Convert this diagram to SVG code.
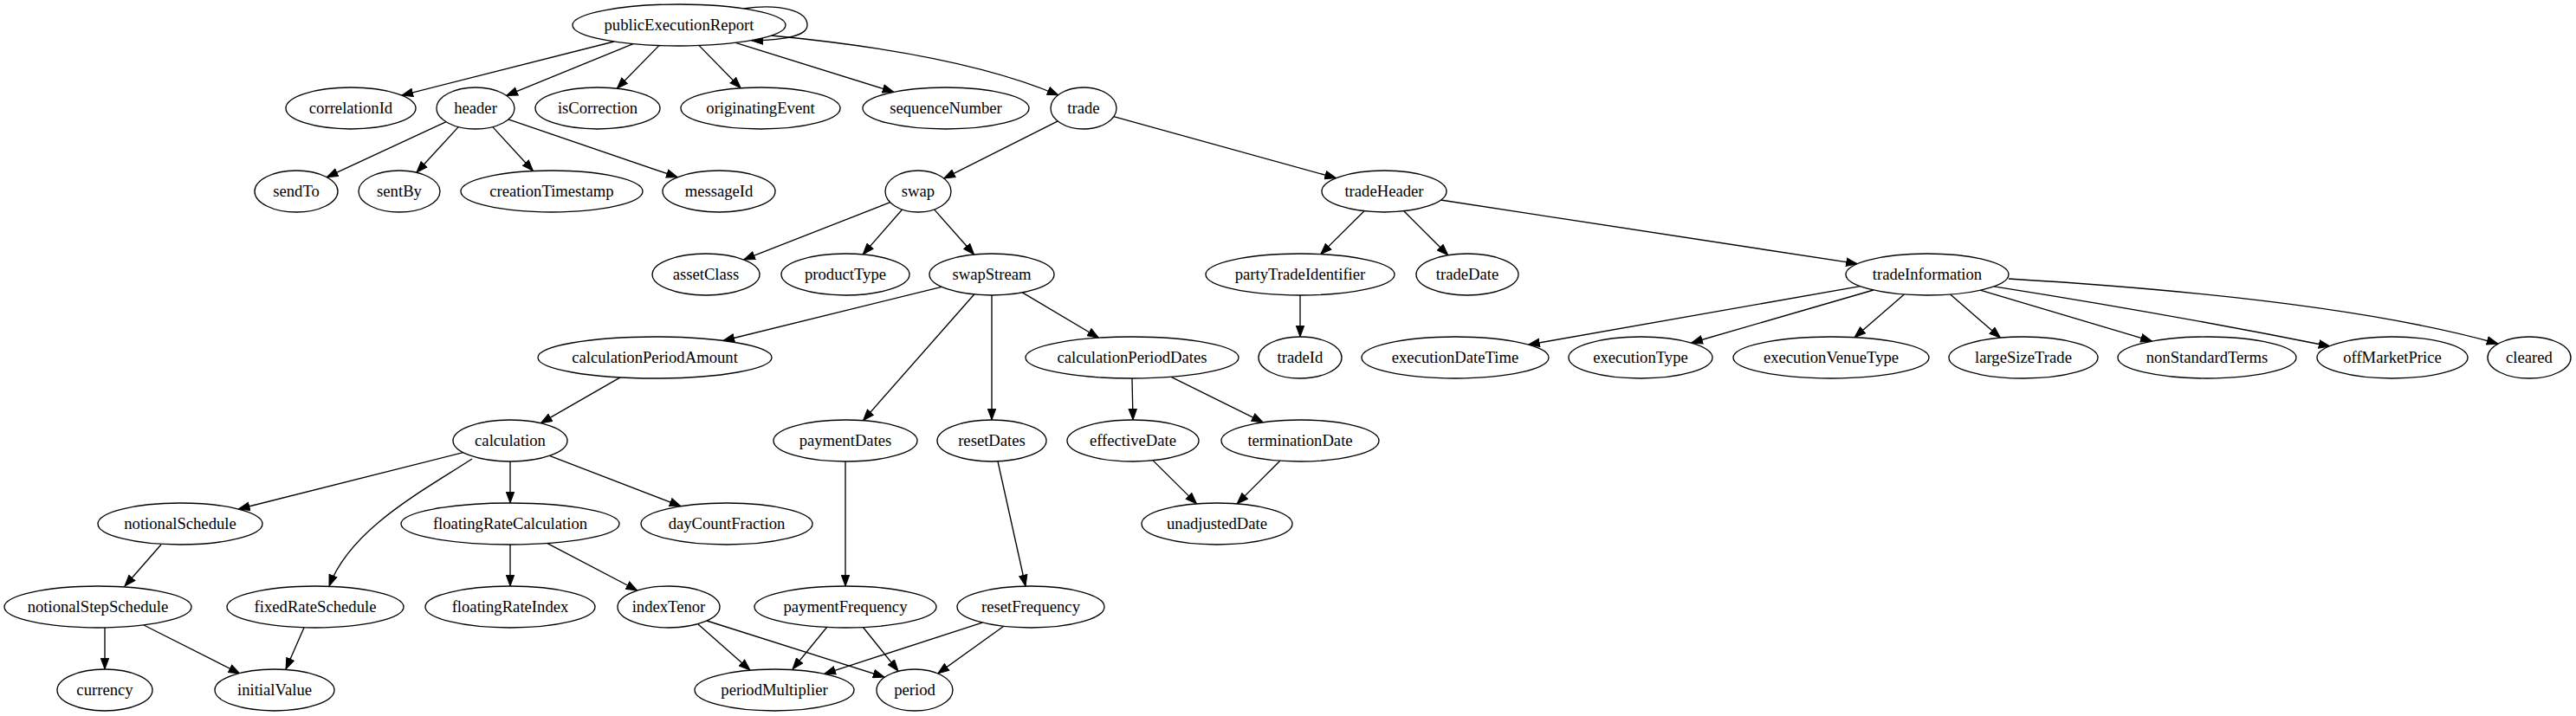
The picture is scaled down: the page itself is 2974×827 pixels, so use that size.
<svg xmlns="http://www.w3.org/2000/svg" width="2974" height="827" viewBox="0 0 2974 827">
<style>
.n ellipse{fill:#fff;stroke:#000;stroke-width:1.33}
.n text{font-family:"Liberation Serif","Times New Roman",serif;font-size:18.67px;text-anchor:middle;fill:#000}
#edges path,#edges line{fill:none;stroke:#000;stroke-width:1.33;marker-end:url(#arr)}
</style>
<defs>
<marker id="arr" markerUnits="userSpaceOnUse" markerWidth="15" markerHeight="11" refX="13.3" refY="5.5" orient="auto" viewBox="0 0 15 11">
<path d="M0.5,0.8 L13.3,5.5 L0.5,10.2 z" fill="#000" stroke="#000" stroke-width="1"/>
</marker>
</defs>
<rect width="2974" height="827" fill="#fff"/>
<g id="edges">
<path d="M858,10 C900,4 932,12 932,29 C932,41 910,46 868,47"/>
<line x1="708.9" y1="48" x2="463.8" y2="110.1"/>
<line x1="731" y1="50.7" x2="584.7" y2="110.4"/>
<line x1="760.9" y1="52.6" x2="712.3" y2="102.2"/>
<line x1="807.1" y1="52.6" x2="855.2" y2="101.7"/>
<line x1="849.3" y1="49.3" x2="1031.9" y2="106.3"/>
<path d="M890,41 Q1110,62 1222,110"/>
<line x1="515.1" y1="140.7" x2="377.2" y2="204.7"/>
<line x1="529.2" y1="146.6" x2="480.9" y2="199.3"/>
<line x1="568.8" y1="146.6" x2="615.5" y2="197.5"/>
<line x1="586.9" y1="137.9" x2="782.3" y2="204.7"/>
<line x1="1221.3" y1="139.9" x2="1089.7" y2="206.1"/>
<line x1="1285.8" y1="134.6" x2="1542.6" y2="205.7"/>
<line x1="1027.7" y1="233.7" x2="858.6" y2="299.9"/>
<line x1="1041.6" y1="242" x2="996.2" y2="293.9"/>
<line x1="1078.5" y1="241.9" x2="1124.6" y2="294"/>
<line x1="1575" y1="243.7" x2="1524.7" y2="293.6"/>
<line x1="1620.8" y1="243.8" x2="1671.8" y2="294.8"/>
<line x1="1663.4" y1="231" x2="2144.4" y2="304.7"/>
<line x1="1501" y1="341" x2="1501" y2="389"/>
<line x1="2147.6" y1="330.6" x2="1764.6" y2="398.1"/>
<line x1="2162.9" y1="335" x2="1952.6" y2="396"/>
<line x1="2198.4" y1="340" x2="2141" y2="389.7"/>
<line x1="2251.6" y1="340" x2="2309.6" y2="390.2"/>
<line x1="2286.2" y1="335.2" x2="2484.5" y2="394.1"/>
<path d="M2302,330.8 Q2500,362 2690,400"/>
<path d="M2319,322 Q2700,345 2884,397"/>
<line x1="1087.1" y1="331.3" x2="834.9" y2="393.5"/>
<line x1="1124.7" y1="340" x2="996.5" y2="485.7"/>
<line x1="1145" y1="341" x2="1145" y2="485"/>
<line x1="1180.3" y1="337.9" x2="1268.5" y2="390.2"/>
<line x1="1307" y1="437" x2="1308" y2="485"/>
<line x1="1352.1" y1="435.3" x2="1458.2" y2="487.8"/>
<line x1="1331.1" y1="531.9" x2="1381.6" y2="581.9"/>
<line x1="1477.8" y1="532.2" x2="1428.1" y2="581.9"/>
<line x1="716.1" y1="435.9" x2="624.3" y2="488.7"/>
<line x1="534.7" y1="522.7" x2="275.3" y2="588"/>
<path d="M545,530 C490,566 405,610 380,677"/>
<line x1="589" y1="533" x2="589" y2="581"/>
<line x1="634.4" y1="526.4" x2="786.1" y2="584.7"/>
<line x1="186" y1="629" x2="144" y2="677"/>
<line x1="121" y1="725" x2="121" y2="773"/>
<line x1="166" y1="722" x2="277" y2="778"/>
<line x1="351" y1="725" x2="330" y2="773"/>
<line x1="589" y1="629" x2="589" y2="677"/>
<line x1="632" y1="627.6" x2="735.8" y2="682"/>
<line x1="806" y1="721" x2="866" y2="774"/>
<line x1="816" y1="717" x2="1021" y2="782"/>
<line x1="976" y1="533" x2="976" y2="677"/>
<line x1="1152" y1="533" x2="1184" y2="677"/>
<line x1="955" y1="724" x2="915" y2="773"/>
<line x1="996" y1="724" x2="1037" y2="775"/>
<line x1="1134.2" y1="719.1" x2="951.7" y2="778.3"/>
<line x1="1158.8" y1="723.3" x2="1082.7" y2="777.9"/>
</g>
<g id="publicExecutionReport" class="n"><ellipse cx="784" cy="29" rx="123" ry="24"/><text x="784" y="35">publicExecutionReport</text></g>
<g id="correlationId" class="n"><ellipse cx="405" cy="125" rx="75" ry="24"/><text x="405" y="131">correlationId</text></g>
<g id="header" class="n"><ellipse cx="549" cy="125" rx="45" ry="24"/><text x="549" y="131">header</text></g>
<g id="isCorrection" class="n"><ellipse cx="690" cy="125" rx="72" ry="24"/><text x="690" y="131">isCorrection</text></g>
<g id="originatingEvent" class="n"><ellipse cx="878" cy="125" rx="92" ry="24"/><text x="878" y="131">originatingEvent</text></g>
<g id="sequenceNumber" class="n"><ellipse cx="1092" cy="125" rx="96" ry="24"/><text x="1092" y="131">sequenceNumber</text></g>
<g id="trade" class="n"><ellipse cx="1251" cy="125" rx="38" ry="24"/><text x="1251" y="131">trade</text></g>
<g id="sendTo" class="n"><ellipse cx="342" cy="221" rx="48" ry="24"/><text x="342" y="227">sendTo</text></g>
<g id="sentBy" class="n"><ellipse cx="461" cy="221" rx="47" ry="24"/><text x="461" y="227">sentBy</text></g>
<g id="creationTimestamp" class="n"><ellipse cx="637" cy="221" rx="105" ry="24"/><text x="637" y="227">creationTimestamp</text></g>
<g id="messageId" class="n"><ellipse cx="830" cy="221" rx="65" ry="24"/><text x="830" y="227">messageId</text></g>
<g id="swap" class="n"><ellipse cx="1060" cy="221" rx="38" ry="24"/><text x="1060" y="227">swap</text></g>
<g id="tradeHeader" class="n"><ellipse cx="1598" cy="221" rx="72" ry="24"/><text x="1598" y="227">tradeHeader</text></g>
<g id="assetClass" class="n"><ellipse cx="815" cy="317" rx="62" ry="24"/><text x="815" y="323">assetClass</text></g>
<g id="productType" class="n"><ellipse cx="976" cy="317" rx="74" ry="24"/><text x="976" y="323">productType</text></g>
<g id="swapStream" class="n"><ellipse cx="1145" cy="317" rx="72" ry="24"/><text x="1145" y="323">swapStream</text></g>
<g id="partyTradeIdentifier" class="n"><ellipse cx="1501" cy="317" rx="109" ry="24"/><text x="1501" y="323">partyTradeIdentifier</text></g>
<g id="tradeDate" class="n"><ellipse cx="1694" cy="317" rx="59" ry="24"/><text x="1694" y="323">tradeDate</text></g>
<g id="tradeInformation" class="n"><ellipse cx="2225" cy="317" rx="94" ry="24"/><text x="2225" y="323">tradeInformation</text></g>
<g id="calculationPeriodAmount" class="n"><ellipse cx="756" cy="413" rx="135" ry="24"/><text x="756" y="419">calculationPeriodAmount</text></g>
<g id="calculationPeriodDates" class="n"><ellipse cx="1307" cy="413" rx="123" ry="24"/><text x="1307" y="419">calculationPeriodDates</text></g>
<g id="tradeId" class="n"><ellipse cx="1501" cy="413" rx="48" ry="24"/><text x="1501" y="419">tradeId</text></g>
<g id="executionDateTime" class="n"><ellipse cx="1680" cy="413" rx="108" ry="24"/><text x="1680" y="419">executionDateTime</text></g>
<g id="executionType" class="n"><ellipse cx="1894" cy="413" rx="83" ry="24"/><text x="1894" y="419">executionType</text></g>
<g id="executionVenueType" class="n"><ellipse cx="2114" cy="413" rx="113" ry="24"/><text x="2114" y="419">executionVenueType</text></g>
<g id="largeSizeTrade" class="n"><ellipse cx="2336" cy="413" rx="86" ry="24"/><text x="2336" y="419">largeSizeTrade</text></g>
<g id="nonStandardTerms" class="n"><ellipse cx="2548" cy="413" rx="103" ry="24"/><text x="2548" y="419">nonStandardTerms</text></g>
<g id="offMarketPrice" class="n"><ellipse cx="2762" cy="413" rx="87" ry="24"/><text x="2762" y="419">offMarketPrice</text></g>
<g id="cleared" class="n"><ellipse cx="2920" cy="413" rx="48" ry="24"/><text x="2920" y="419">cleared</text></g>
<g id="calculation" class="n"><ellipse cx="589" cy="509" rx="66" ry="24"/><text x="589" y="515">calculation</text></g>
<g id="paymentDates" class="n"><ellipse cx="976" cy="509" rx="83" ry="24"/><text x="976" y="515">paymentDates</text></g>
<g id="resetDates" class="n"><ellipse cx="1145" cy="509" rx="63" ry="24"/><text x="1145" y="515">resetDates</text></g>
<g id="effectiveDate" class="n"><ellipse cx="1308" cy="509" rx="76" ry="24"/><text x="1308" y="515">effectiveDate</text></g>
<g id="terminationDate" class="n"><ellipse cx="1501" cy="509" rx="91" ry="24"/><text x="1501" y="515">terminationDate</text></g>
<g id="notionalSchedule" class="n"><ellipse cx="208" cy="605" rx="95" ry="24"/><text x="208" y="611">notionalSchedule</text></g>
<g id="floatingRateCalculation" class="n"><ellipse cx="589" cy="605" rx="126" ry="24"/><text x="589" y="611">floatingRateCalculation</text></g>
<g id="dayCountFraction" class="n"><ellipse cx="839" cy="605" rx="99" ry="24"/><text x="839" y="611">dayCountFraction</text></g>
<g id="unadjustedDate" class="n"><ellipse cx="1405" cy="605" rx="87" ry="24"/><text x="1405" y="611">unadjustedDate</text></g>
<g id="notionalStepSchedule" class="n"><ellipse cx="113" cy="701" rx="108" ry="24"/><text x="113" y="707">notionalStepSchedule</text></g>
<g id="fixedRateSchedule" class="n"><ellipse cx="364" cy="701" rx="102" ry="24"/><text x="364" y="707">fixedRateSchedule</text></g>
<g id="floatingRateIndex" class="n"><ellipse cx="589" cy="701" rx="98" ry="24"/><text x="589" y="707">floatingRateIndex</text></g>
<g id="indexTenor" class="n"><ellipse cx="772" cy="701" rx="59" ry="24"/><text x="772" y="707">indexTenor</text></g>
<g id="paymentFrequency" class="n"><ellipse cx="976" cy="701" rx="105" ry="24"/><text x="976" y="707">paymentFrequency</text></g>
<g id="resetFrequency" class="n"><ellipse cx="1190" cy="701" rx="85" ry="24"/><text x="1190" y="707">resetFrequency</text></g>
<g id="currency" class="n"><ellipse cx="121" cy="797" rx="55" ry="24"/><text x="121" y="803">currency</text></g>
<g id="initialValue" class="n"><ellipse cx="317" cy="797" rx="69" ry="24"/><text x="317" y="803">initialValue</text></g>
<g id="periodMultiplier" class="n"><ellipse cx="894" cy="797" rx="92" ry="24"/><text x="894" y="803">periodMultiplier</text></g>
<g id="period" class="n"><ellipse cx="1056" cy="797" rx="44" ry="24"/><text x="1056" y="803">period</text></g>
</svg>
